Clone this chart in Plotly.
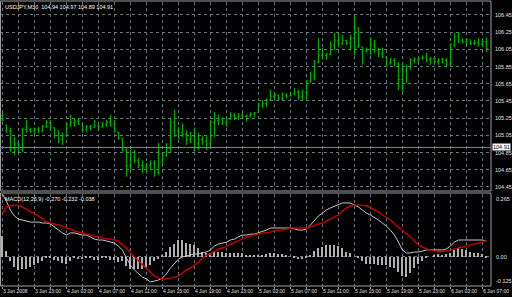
import plotly.graph_objects as go

# ---------------- data ----------------
time_labels = ["3 Jun 2008", "3 Jun 23:00", "4 Jun 03:00", "4 Jun 07:00", "4 Jun 11:00",
               "4 Jun 15:00", "4 Jun 19:00", "4 Jun 23:00", "5 Jun 03:00", "5 Jun 07:00",
               "5 Jun 11:00", "5 Jun 15:00", "5 Jun 19:00", "5 Jun 23:00", "6 Jun 03:00",
               "6 Jun 07:00"]
price_ticks = [104.45, 104.65, 104.85, 105.05, 105.25, 105.45, 105.65, 105.85, 106.05, 106.25, 106.45]

high = [105.31, 105.17, 105.14, 105.03, 104.97, 105.14, 105.23, 105.14, 105.14, 105.15,
        105.17, 105.23, 105.23, 105.14, 105.11, 105.08, 105.19, 105.29, 105.25, 105.25,
        105.17, 105.17, 105.17, 105.23, 105.17, 105.21, 105.23, 105.29, 105.23, 105.09,
        105.02, 104.90, 104.88, 104.88, 104.79, 104.76, 104.73, 104.76, 104.76, 104.96,
        104.85, 104.96, 105.26, 105.35, 105.15, 105.19, 105.11, 105.09, 105.14, 105.08,
        105.05, 105.05, 105.23, 105.32, 105.29, 105.26, 105.25, 105.32, 105.31, 105.31,
        105.31, 105.29, 105.32, 105.32, 105.43, 105.46, 105.48, 105.58, 105.55, 105.52,
        105.55, 105.54, 105.55, 105.60, 105.58, 105.58, 105.69, 105.79, 105.93, 106.18,
        106.07, 106.01, 106.14, 106.24, 106.24, 106.22, 106.16, 106.22, 106.43, 106.31,
        106.08, 106.07, 106.19, 106.16, 106.07, 106.07, 105.96, 105.95, 105.95, 105.90,
        105.89, 105.87, 105.95, 105.96, 105.96, 105.98, 106.01, 105.96, 105.96, 105.95,
        105.95, 105.95, 106.12, 106.24, 106.25, 106.18, 106.18, 106.16, 106.16, 106.18,
        106.16, 106.19]
low = [105.21, 105.08, 104.86, 104.82, 104.85, 104.85, 105.08, 105.08, 105.05, 105.08,
       105.09, 105.14, 105.11, 105.02, 104.96, 104.94, 105.03, 105.15, 105.15, 105.17,
       105.08, 105.09, 105.11, 105.14, 105.11, 105.14, 105.15, 105.15, 105.08, 105.00,
       104.86, 104.57, 104.65, 104.73, 104.67, 104.61, 104.61, 104.65, 104.57, 104.59,
       104.71, 104.80, 104.85, 105.03, 105.00, 105.03, 104.94, 104.96, 104.86, 104.88,
       104.94, 104.88, 104.92, 105.03, 105.17, 105.17, 105.15, 105.23, 105.23, 105.23,
       105.25, 105.21, 105.26, 105.26, 105.32, 105.37, 105.38, 105.46, 105.46, 105.46,
       105.46, 105.48, 105.50, 105.52, 105.46, 105.46, 105.46, 105.66, 105.69, 105.89,
       105.93, 105.93, 105.98, 106.04, 106.08, 106.10, 106.10, 106.04, 105.98, 106.07,
       105.87, 106.01, 105.98, 106.01, 105.96, 105.95, 105.85, 105.87, 105.85, 105.58,
       105.55, 105.66, 105.81, 105.89, 105.90, 105.93, 105.90, 105.87, 105.89, 105.87,
       105.89, 105.85, 105.85, 106.08, 106.12, 106.12, 106.10, 106.10, 106.10, 106.08,
       106.08, 106.02]
open_ = [105.28, 105.17, 105.10, 104.90, 104.95, 104.88, 105.12, 105.12, 105.10, 105.12,
         105.10, 105.15, 105.20, 105.14, 105.05, 105.00, 105.05, 105.18, 105.20, 105.22,
         105.17, 105.12, 105.15, 105.14, 105.16, 105.15, 105.18, 105.20, 105.18, 105.09,
         105.02, 104.88, 104.70, 104.80, 104.76, 104.70, 104.68, 104.70, 104.72, 104.62,
         104.84, 104.82, 104.90, 105.20, 105.10, 105.08, 105.06, 105.00, 105.04, 104.96,
         105.00, 104.98, 104.95, 105.20, 105.22, 105.24, 105.20, 105.24, 105.28, 105.26,
         105.28, 105.27, 105.28, 105.30, 105.32, 105.40, 105.42, 105.46, 105.50, 105.52,
         105.48, 105.52, 105.51, 105.53, 105.55, 105.50, 105.55, 105.68, 105.75, 105.90,
         105.98, 105.98, 105.99, 106.10, 106.15, 106.12, 106.15, 106.12, 106.18, 106.08,
         106.08, 106.04, 106.05, 106.10, 106.04, 106.00, 105.96, 105.90, 105.92, 105.88,
         105.70, 105.80, 105.85, 105.92, 105.93, 105.95, 105.96, 105.93, 105.94, 105.91,
         105.93, 105.92, 105.88, 106.10, 106.20, 106.15, 106.14, 106.16, 106.12, 106.13,
         106.11, 106.14]
close = [105.23, 105.10, 104.90, 104.95, 104.88, 105.12, 105.12, 105.10, 105.12, 105.10,
         105.15, 105.20, 105.15, 105.05, 105.00, 105.05, 105.18, 105.20, 105.22, 105.18,
         105.12, 105.15, 105.13, 105.16, 105.15, 105.18, 105.20, 105.18, 105.10, 105.02,
         104.88, 104.70, 104.80, 104.76, 104.70, 104.68, 104.70, 104.72, 104.62, 104.84,
         104.82, 104.90, 105.20, 105.10, 105.08, 105.06, 105.00, 105.04, 104.96, 105.00,
         104.98, 104.95, 105.20, 105.22, 105.24, 105.20, 105.24, 105.28, 105.26, 105.28,
         105.27, 105.28, 105.30, 105.31, 105.40, 105.42, 105.46, 105.50, 105.52, 105.48,
         105.52, 105.51, 105.53, 105.55, 105.50, 105.55, 105.68, 105.75, 105.90, 105.98,
         105.98, 105.99, 106.10, 106.15, 106.12, 106.15, 106.12, 106.18, 106.08, 106.10,
         106.04, 106.05, 106.10, 106.04, 106.00, 105.96, 105.90, 105.92, 105.88, 105.70,
         105.80, 105.85, 105.92, 105.93, 105.95, 105.96, 105.93, 105.94, 105.91, 105.93,
         105.92, 105.88, 106.10, 106.20, 106.15, 106.14, 106.16, 106.12, 106.13, 106.11,
         106.14, 106.06]

macd_main = [0.265, 0.235, 0.197, 0.172, 0.159, 0.155, 0.150, 0.146, 0.146, 0.146,
             0.142, 0.142, 0.138, 0.125, 0.112, 0.100, 0.091, 0.100, 0.100, 0.095,
             0.091, 0.091, 0.083, 0.074, 0.070, 0.070, 0.066, 0.061, 0.057, 0.044,
             0.028, -0.006, -0.036, -0.057, -0.070, -0.087, -0.095, -0.108, -0.104, -0.100,
             -0.091, -0.074, -0.049, -0.032, -0.011, -0.002, 0.002, 0.006, 0.011, 0.011,
             0.015, 0.019, 0.028, 0.044, 0.053, 0.057, 0.061, 0.070, 0.074, 0.083,
             0.091, 0.091, 0.095, 0.095, 0.100, 0.104, 0.112, 0.121, 0.121, 0.121,
             0.121, 0.121, 0.121, 0.117, 0.112, 0.112, 0.117, 0.133, 0.155, 0.172,
             0.184, 0.197, 0.206, 0.214, 0.222, 0.227, 0.227, 0.227, 0.218, 0.210,
             0.197, 0.184, 0.176, 0.167, 0.155, 0.142, 0.129, 0.112, 0.091, 0.061,
             0.028, 0.015, 0.015, 0.019, 0.019, 0.023, 0.028, 0.028, 0.028, 0.028,
             0.028, 0.032, 0.044, 0.061, 0.070, 0.070, 0.070, 0.070, 0.070, 0.070,
             0.070, 0.066]
macd_signal = [0.180, 0.210, 0.214, 0.218, 0.218, 0.210, 0.201, 0.189, 0.180, 0.172,
               0.159, 0.146, 0.142, 0.138, 0.133, 0.129, 0.121, 0.117, 0.108, 0.104,
               0.100, 0.095, 0.091, 0.087, 0.083, 0.078, 0.074, 0.074, 0.070, 0.066,
               0.049, 0.036, 0.015, -0.002, -0.019, -0.036, -0.049, -0.070, -0.083, -0.091,
               -0.095, -0.095, -0.091, -0.087, -0.083, -0.070, -0.057, -0.049, -0.036, -0.023,
               -0.006, 0.006, 0.011, 0.023, 0.032, 0.036, 0.044, 0.053, 0.061, 0.070,
               0.078, 0.083, 0.087, 0.091, 0.095, 0.100, 0.100, 0.104, 0.108, 0.112,
               0.112, 0.117, 0.121, 0.121, 0.121, 0.121, 0.121, 0.125, 0.133, 0.138,
               0.142, 0.150, 0.159, 0.167, 0.176, 0.193, 0.206, 0.214, 0.218, 0.218,
               0.218, 0.214, 0.206, 0.197, 0.189, 0.176, 0.167, 0.155, 0.138, 0.125,
               0.112, 0.100, 0.083, 0.066, 0.049, 0.040, 0.032, 0.028, 0.023, 0.019,
               0.023, 0.023, 0.028, 0.032, 0.036, 0.040, 0.044, 0.049, 0.053, 0.057,
               0.061, 0.070]

title_text = "USDJPY,M30  104.94 104.97 104.89 104.91"
macd_text = "MACD(12,26,9) -0.270 -0.232 -0.038"
bid_price = 104.91
macd_labels = [0.265, 0.00, -0.125]

# ---------------- derived ----------------
bars = list(range(len(high)))
macd_hist = [m - s for m, s in zip(macd_main, macd_signal)]
grid_vals = list(range(0, len(high), 4))
tick_text = []
for k, v in enumerate(grid_vals):
    tick_text.append(time_labels[k // 2] if k % 2 == 0 and k // 2 < len(time_labels) else "")

W, H = 512, 297
xr = 491 / W
x_range = [-0.6, -0.6 + 491 / 4]
main_dom = [1 - 190 / H, 1 - 2 / H]
macd_dom = [1 - 286 / H, 1 - 194 / H]
p_range = [104.415, 106.601]
m_range = [-0.125, 0.265]

GRID = "#6b7685"
FONT = "Liberation Sans Narrow, Liberation Sans, sans-serif"
fig = go.Figure()

fig.add_trace(go.Ohlc(x=bars, open=open_, high=high, low=low, close=close,
                      increasing=dict(line=dict(color="#00c000", width=1)),
                      decreasing=dict(line=dict(color="#00c000", width=1)),
                      tickwidth=0.3, xaxis="x", yaxis="y", hoverinfo="skip"))

fig.add_trace(go.Bar(x=bars, y=macd_hist, width=0.28, marker=dict(color="#b0b0b0", line=dict(width=0)),
                     xaxis="x2", yaxis="y2", hoverinfo="skip"))
fig.add_trace(go.Scatter(x=bars, y=macd_main, mode="lines", line=dict(color="#c8c8c8", width=1),
                         xaxis="x2", yaxis="y2", hoverinfo="skip"))
fig.add_trace(go.Scatter(x=bars, y=macd_signal, mode="lines", line=dict(color="#c80000", width=1.4),
                         xaxis="x2", yaxis="y2", hoverinfo="skip"))

axis_font = dict(family=FONT, size=5.5, color="#e0e0e0")
fig.update_layout(
    width=W, height=H, margin=dict(l=0, r=0, t=0, b=0, autoexpand=False),
    paper_bgcolor="black", plot_bgcolor="black", showlegend=False, bargap=0,
    xaxis=dict(domain=[0, xr], range=x_range, anchor="y", tickvals=grid_vals, showticklabels=False,
               showgrid=True, gridcolor=GRID, griddash="dot", gridwidth=1, zeroline=False,
               rangeslider=dict(visible=False), ticks="", automargin=False),
    yaxis=dict(domain=main_dom, range=p_range, side="right", anchor="x", tickvals=price_ticks,
               ticktext=[f"{v:.2f}" for v in price_ticks], tickfont=axis_font,
               showgrid=True, gridcolor=GRID, griddash="dot", gridwidth=1, zeroline=False,
               ticks="", ticklabelstandoff=3, automargin=False),
    xaxis2=dict(domain=[0, xr], range=x_range, anchor="y2", tickvals=grid_vals, ticktext=tick_text,
                tickfont=dict(family=FONT, size=5, color="#e0e0e0"),
                ticklabelposition="outside right", tickangle=0,
                showgrid=True, gridcolor=GRID, griddash="dot", gridwidth=1, zeroline=False,
                ticks="outside", ticklen=2, tickcolor="#a0a0a0", ticklabelstandoff=0,
                automargin=False),
    yaxis2=dict(domain=macd_dom, range=m_range, side="right", anchor="x2", tickvals=[0],
                showticklabels=False, showgrid=True, gridcolor=GRID, griddash="dot",
                zeroline=False, ticks="", automargin=False),
)

# frames / separators
fig.add_shape(type="rect", xref="paper", yref="paper", x0=0.001, x1=xr, y0=1 - 191 / H, y1=1 - 1 / H,
              line=dict(color="#a0a0a0", width=1))
fig.add_shape(type="rect", xref="paper", yref="paper", x0=0.001, x1=xr, y0=1 - 286 / H, y1=1 - 193 / H,
              line=dict(color="#a0a0a0", width=1))
# bid line
fig.add_shape(type="line", xref="paper", yref="y", x0=0, x1=xr, y0=bid_price, y1=bid_price,
              line=dict(color="#8a8a8a", width=1))
fig.add_annotation(xref="paper", yref="y", x=xr + 1 / W, y=bid_price, text=f"{bid_price:.2f}",
                   showarrow=False, xanchor="left", yanchor="middle", bgcolor="white",
                   font=dict(family=FONT, size=5.5, color="black"), borderpad=0)
# macd axis labels
for v in macd_labels:
    anc = "top" if v == max(macd_labels) else ("bottom" if v == min(macd_labels) else "middle")
    fig.add_annotation(xref="paper", yref="y2", x=xr + 3 / W, y=v, text=f"{v:.3f}" if v != 0 else "0.00",
                       showarrow=False, xanchor="left", yanchor=anc, font=axis_font)
# titles
fig.add_annotation(xref="paper", yref="paper", x=3 / W, y=1 - 2 / H, text=title_text, showarrow=False,
                   xanchor="left", yanchor="top", font=dict(family=FONT, size=5.5, color="white"))
fig.add_annotation(xref="paper", yref="paper", x=3 / W, y=1 - 194 / H, text=macd_text, showarrow=False,
                   xanchor="left", yanchor="top", font=dict(family=FONT, size=5.5, color="white"))

fig.write_html("out.html")
